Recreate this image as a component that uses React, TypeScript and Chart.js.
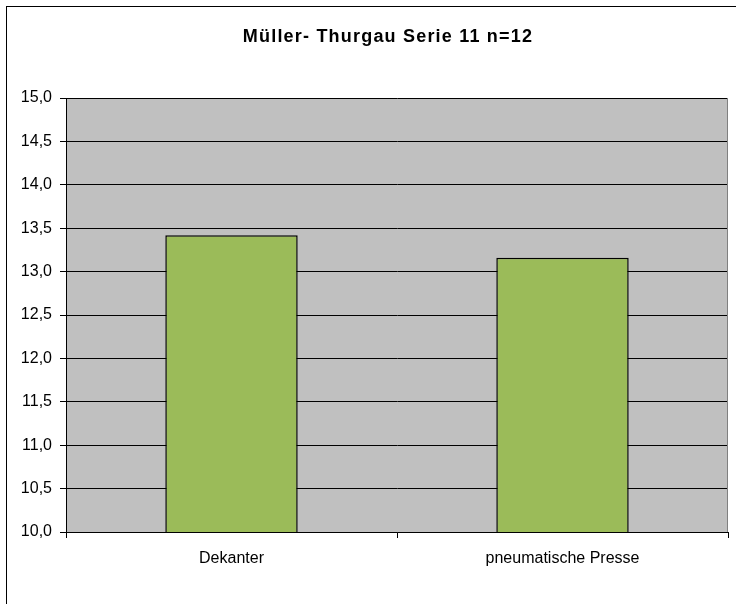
import React, { useEffect, useRef } from "react";
import { Chart, registerables } from "chart.js";

Chart.register(...registerables);

const title = "Müller- Thurgau Serie 11 n=12";
const categories = ["Dekanter", "pneumatische Presse"];
const values = [13.42, 13.16];
const yMin = 10;
const yMax = 15;
const yStep = 0.5;

const FONT = "Arial, 'Liberation Sans', sans-serif";

const decorPlugin = {
  id: "decor",
  beforeDraw(chart: any) {
    const { ctx, chartArea } = chart;
    ctx.save();
    ctx.fillStyle = "#ffffff";
    ctx.fillRect(0, 0, chart.width, chart.height);
    // outer frame
    ctx.strokeStyle = "#000000";
    ctx.lineWidth = 1;
    ctx.strokeRect(6.5, 6.5, 900, 900);
    // plot background
    ctx.fillStyle = "#C0C0C0";
    ctx.fillRect(chartArea.left, chartArea.top, chartArea.right - chartArea.left, chartArea.bottom - chartArea.top);
    // title
    ctx.fillStyle = "#000000";
    ctx.font = `bold 18px ${FONT}`;
    try {
      (ctx as any).letterSpacing = "1.2px";
    } catch (e) {}
    ctx.textAlign = "center";
    ctx.textBaseline = "middle";
    ctx.fillText(title, 388, 37);
    try {
      (ctx as any).letterSpacing = "0px";
    } catch (e) {}
    ctx.restore();
  },
  afterDatasetsDraw(chart: any) {
    const { ctx, chartArea } = chart;
    ctx.save();
    ctx.strokeStyle = "#808080";
    ctx.lineWidth = 1;
    ctx.beginPath();
    ctx.moveTo(Math.round(chartArea.right) - 0.5, chartArea.top);
    ctx.lineTo(Math.round(chartArea.right) - 0.5, chartArea.bottom);
    ctx.stroke();
    ctx.restore();
  },
};

export default function App() {
  const ref = useRef<HTMLCanvasElement | null>(null);

  useEffect(() => {
    if (!ref.current) return;
    const chart = new Chart(ref.current, {
      type: "bar",
      data: {
        labels: categories,
        datasets: [
          {
            data: values,
            backgroundColor: "#9BBB59",
            borderColor: "#000000",
            borderWidth: 1.5,
            categoryPercentage: 1,
            barPercentage: 0.4,
          },
        ],
      },
      options: {
        responsive: false,
        animation: false,
        layout: { padding: { left: 0, top: 98, right: 8, bottom: 0 } },
        plugins: {
          legend: { display: false },
          title: { display: false },
          tooltip: { enabled: false },
        },
        scales: {
          x: {
            grid: {
              drawOnChartArea: false,
              drawTicks: true,
              tickLength: 6,
              color: "#000000",
              offset: true,
            },
            border: { display: true, color: "#000000", width: 1 },
            ticks: {
              color: "#000000",
              font: { family: FONT, size: 16 },
              padding: 11,
            },
            afterFit: (scale: any) => {
              scale.height = 72;
            },
          },
          y: {
            min: yMin,
            max: yMax,
            grid: {
              color: "#000000",
              lineWidth: 1,
              tickLength: 6,
            },
            border: { display: true, color: "#000000", width: 1 },
            ticks: {
              stepSize: yStep,
              color: "#000000",
              font: { family: FONT, size: 16 },
              padding: 8,
              callback: (v: any) => Number(v).toFixed(1).replace(".", ","),
            },
            afterFit: (scale: any) => {
              scale.width = 66;
            },
          },
        },
      },
      plugins: [decorPlugin],
    });
    return () => chart.destroy();
  }, []);

  return (
    <div style={{ position: "fixed", left: 0, top: 0, width: 736, height: 604 }}>
      <canvas ref={ref} width={736} height={604} style={{ width: 736, height: 604 }} />
    </div>
  );
}
